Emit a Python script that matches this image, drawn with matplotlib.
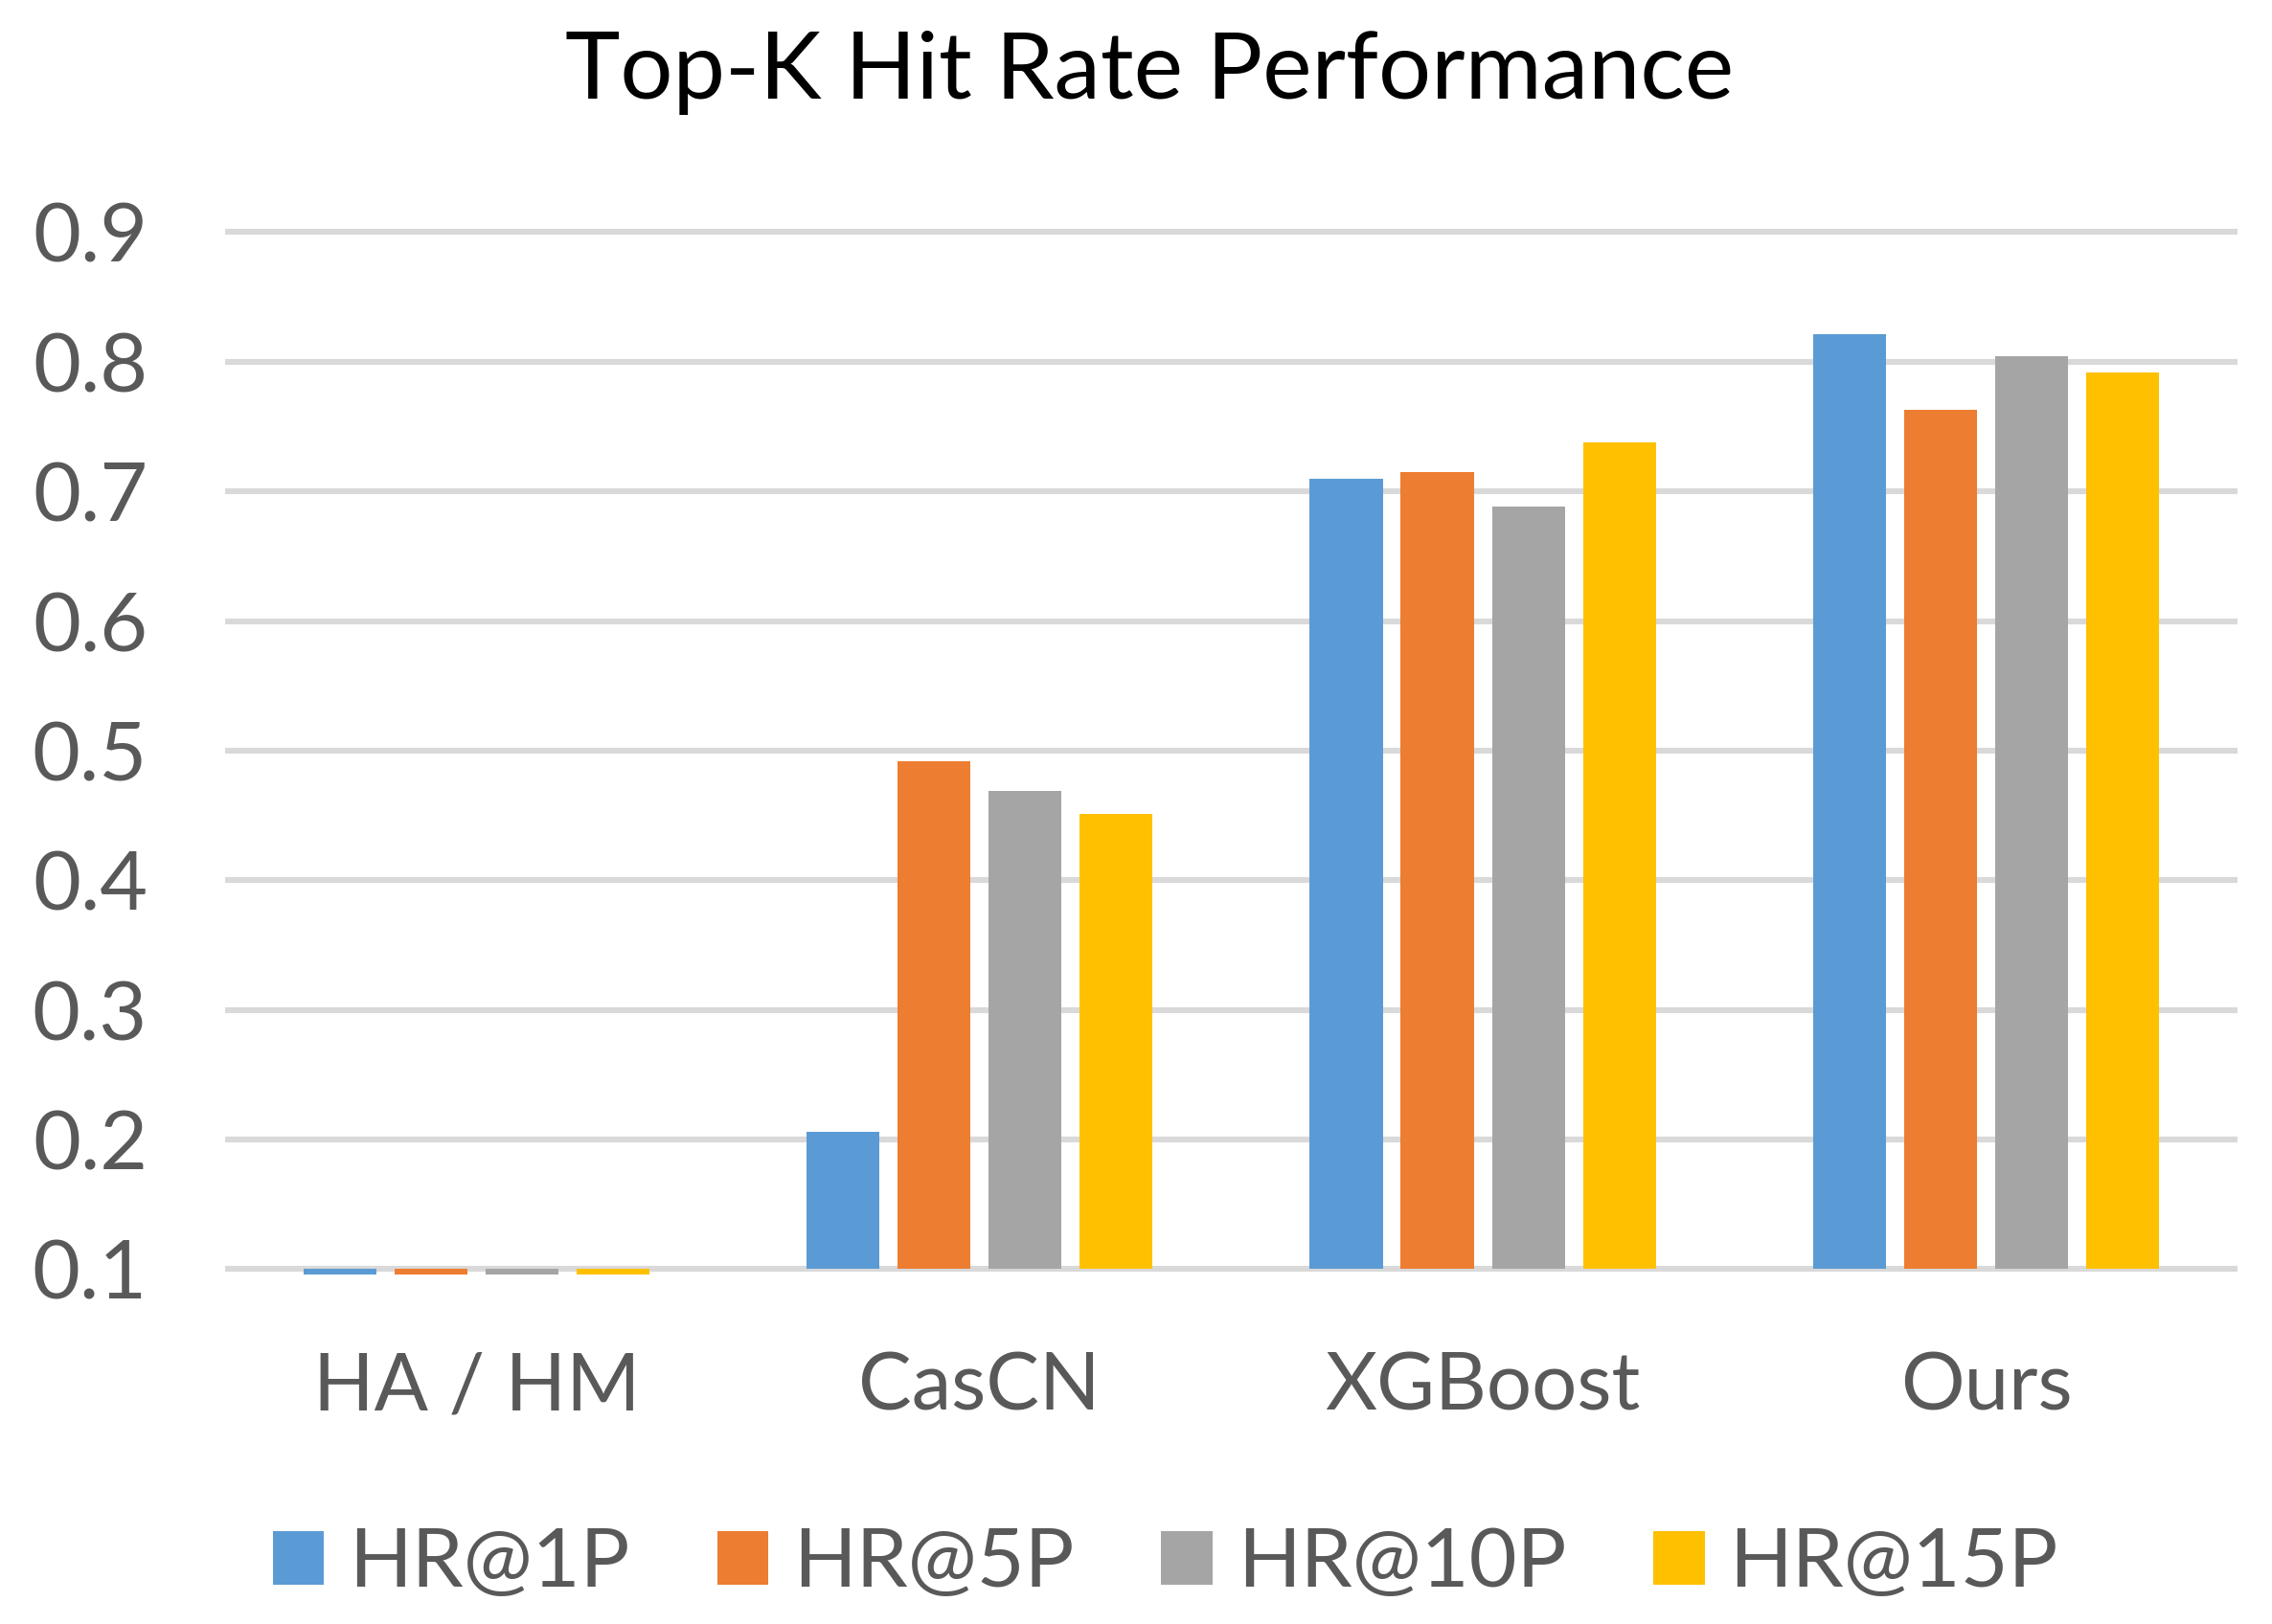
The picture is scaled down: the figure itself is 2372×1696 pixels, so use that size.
import matplotlib
matplotlib.use("Agg")
import matplotlib.pyplot as plt
import numpy as np

categories = ["HA / HM", "CasCN", "XGBoost", "Ours"]
series_names = ["HR@1P", "HR@5P", "HR@10P", "HR@15P"]
hr1 = [0.096, 0.206, 0.710, 0.821]
hr5 = [0.096, 0.492, 0.715, 0.763]
hr10 = [0.096, 0.469, 0.688, 0.804]
hr15 = [0.096, 0.451, 0.738, 0.792]
yticks = [0.1, 0.2, 0.3, 0.4, 0.5, 0.6, 0.7, 0.8, 0.9]
ytick_labels = ["0.1", "0.2", "0.3", "0.4", "0.5", "0.6", "0.7", "0.8", "0.9"]
colors = ["#5B9BD5", "#ED7D31", "#A5A5A5", "#FFC000"]

plt.rcParams['font.family'] = ['Lato', 'DejaVu Sans']

fig = plt.figure(figsize=(11.86, 8.48), dpi=200)
ax = fig.add_axes([0.0989, 0.2106, 0.886, 0.6544])
base = 0.1
x = np.arange(len(categories))
width = 0.145
step = 0.181
for i, (vals, name, c) in enumerate(zip([hr1, hr5, hr10, hr15], series_names, colors)):
    off = (i - 1.5) * step
    ax.bar(x + off, np.array(vals) - base, width=width, bottom=base, color=c,
           label=name, zorder=3)

ax.set_xlim(-0.5, len(categories) - 0.5)
ax.set_ylim(0.09, 0.91)
ax.set_yticks(yticks)
ax.set_yticklabels(ytick_labels)
ax.set_xticks(x)
ax.set_xticklabels(categories)
ax.yaxis.grid(True, color="#D9D9D9", linewidth=2.2, zorder=2)
ax.set_axisbelow(False)
for s in ax.spines.values():
    s.set_visible(False)
ax.tick_params(axis='y', length=0, labelsize=31, labelcolor="#595959", pad=29)
ax.tick_params(axis='x', length=0, labelsize=30, labelcolor="#595959", pad=26)

fig.text(0.506, 0.955, "Top-K Hit Rate Performance", ha='center', va='center',
         fontsize=35, color="black")

fig.legend(loc='center', bbox_to_anchor=(0.513, 0.037), ncol=4, frameon=False,
           fontsize=31, handlelength=0.62, handleheight=0.62, columnspacing=1.06,
           handletextpad=0.3, labelcolor="#595959")

fig.savefig("out.png", dpi=200)
